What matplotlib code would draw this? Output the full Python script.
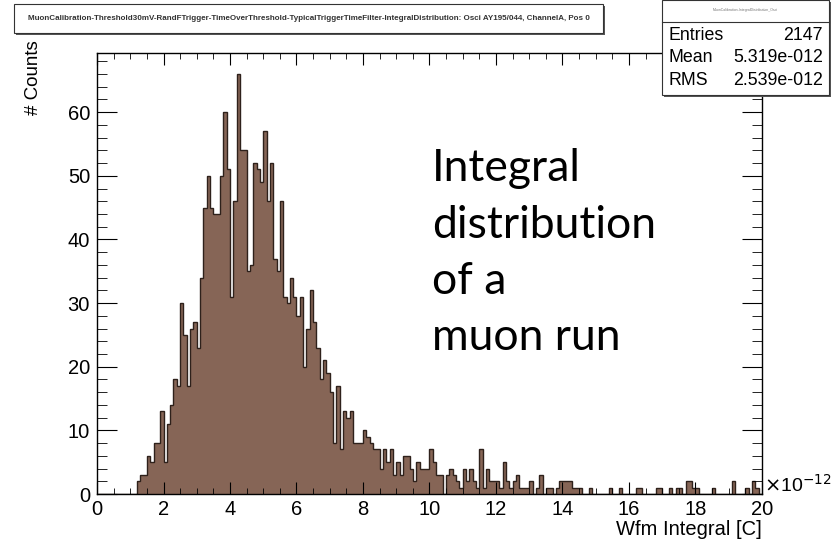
import numpy as np
import matplotlib.pyplot as plt
import matplotlib as mpl
from matplotlib.patches import Rectangle
from matplotlib.ticker import MultipleLocator

mpl.rcParams['font.family'] = 'Liberation Sans'

W, H = 831, 542

# waveform integral histogram: 200 bins over 0..20 (units of 1e-12 C)
x_lo, x_hi, n_bins = 0.0, 20.0, 200
counts = [
    0, 0, 0, 0, 0, 0, 0, 0, 0, 0,
    0, 0, 2, 3, 3, 6, 5, 8, 8, 13,
    5, 11, 14, 18, 17, 30, 25, 17, 26, 27,
    23, 34, 45, 50, 45, 44, 44, 50, 60, 51,
    31, 46, 66, 54, 54, 35, 36, 52, 51, 49,
    57, 46, 52, 37, 35, 46, 31, 30, 34, 31,
    28, 31, 20, 26, 32, 27, 23, 18, 21, 19,
    16, 8, 17, 7, 13, 12, 13, 8, 8, 8,
    10, 9, 8, 7, 7, 4, 7, 5, 7, 3,
    5, 3, 6, 6, 4, 2, 5, 4, 4, 4,
    7, 5, 3, 3, 0, 3, 4, 3, 2, 1,
    4, 2, 4, 2, 1, 7, 1, 4, 2, 2,
    2, 1, 5, 2, 1, 2, 3, 1, 1, 1,
    2, 0, 1, 3, 0, 1, 1, 0, 1, 2,
    2, 2, 2, 1, 1, 1, 0, 0, 1, 0,
    0, 0, 0, 0, 1, 0, 0, 1, 0, 0,
    0, 0, 1, 1, 0, 0, 0, 0, 1, 1,
    0, 0, 1, 0, 1, 1, 0, 2, 2, 1,
    1, 0, 0, 0, 0, 1, 0, 0, 0, 0,
    0, 2, 0, 0, 0, 1, 0, 2, 1, 0,
]

hist_title = ("MuonCalibration-Threshold30mV-RandFTrigger-TimeOverThreshold-"
              "TypicalTriggerTimeFilter-IntegralDistribution: Osci AY195/044, ChannelA, Pos 0")
stat_names = ["Entries", "Mean", "RMS"]
stat_values = ["2147", "5.319e-012", "2.539e-012"]
note_lines = ["Integral", "distribution", "of a", "muon run"]

LABEL_SIZE = 14.5


def px(x, y):
    # pixel position (from top-left) -> figure fraction
    return x / W, 1 - y / H


fig = plt.figure(figsize=(W / 100, H / 100), dpi=100)
ax = fig.add_axes([97 / W, (H - 494) / H, 665 / W, 441 / H])

edges = np.linspace(x_lo, x_hi, n_bins + 1)
ax.stairs(counts, edges, fill=True, color='#866556', lw=0)
ax.stairs(counts, edges, color='#2e211b', lw=1.0)

ax.set_xlim(x_lo, x_hi)
ax.set_ylim(0, 1.05 * max(counts))
ax.xaxis.set_major_locator(MultipleLocator(2))
ax.xaxis.set_minor_locator(MultipleLocator(0.5))
ax.yaxis.set_major_locator(MultipleLocator(10))
ax.yaxis.set_minor_locator(MultipleLocator(2))
ax.tick_params(which='both', direction='in', top=True, right=True, labelsize=LABEL_SIZE)
ax.tick_params(axis='x', which='major', length=8.5, pad=4)
ax.tick_params(axis='x', which='minor', length=4.3)
ax.tick_params(axis='y', which='major', length=14.4, pad=5)
ax.tick_params(axis='y', which='minor', length=7.2)
for s in ax.spines.values():
    s.set_linewidth(1.0)

ax.text(1.003, -0.005, r"$\times$10$^{-12}$", transform=ax.transAxes,
        fontsize=LABEL_SIZE - 0.5, ha='left', va='bottom')
ax.set_xlabel("Wfm Integral [C]", fontsize=LABEL_SIZE, loc='right', labelpad=1)
ax.set_ylabel("# Counts", fontsize=LABEL_SIZE - 1, loc='top')
ax.yaxis.set_label_coords(-0.082, 1.03)

# title pave with shadow
tx0, ty0 = px(14, 33)
tx1, ty1 = px(603, 4)
fig.patches.append(Rectangle((tx0 + 2 / W, ty0 - 2 / H), tx1 - tx0, ty1 - ty0,
                             transform=fig.transFigure, fc='#555555', ec='none'))
fig.patches.append(Rectangle((tx0, ty0), tx1 - tx0, ty1 - ty0,
                             transform=fig.transFigure, fc='white', ec='#333333', lw=0.8))
fig.text((tx0 + tx1) / 2, (ty0 + ty1) / 2, hist_title, fontsize=5.75,
         fontweight='bold', ha='center', va='center', color='#333333')

# stats pave
sx0, sy0 = px(662, 95)
sx1, sy1 = px(829, 0)
fig.patches.append(Rectangle((sx0 + 2 / W, sy0 - 2 / H), sx1 - sx0, sy1 - sy0,
                             transform=fig.transFigure, fc='#555555', ec='none'))
fig.patches.append(Rectangle((sx0, sy0), sx1 - sx0, sy1 - sy0,
                             transform=fig.transFigure, fc='white', ec='#333333', lw=0.8))
fig.add_artist(plt.Line2D([sx0, sx1], [px(0, 22)[1]] * 2, transform=fig.transFigure,
                          color='#333333', lw=0.8))
fig.text((sx0 + sx1) / 2, px(0, 10)[1], "MuonCalibration-IntegralDistribution_Osci",
         fontsize=2.5, ha='center', va='center', color='#777777')
for i, (name, val) in enumerate(zip(stat_names, stat_values)):
    yy = px(0, 35.5 + 22.5 * i)[1]
    fig.text(px(668, 0)[0], yy, name, fontsize=12.8, ha='left', va='center')
    fig.text(px(823, 0)[0], yy, val, fontsize=12.8, ha='right', va='center')

# note on the plot
for i, line in enumerate(note_lines):
    fig.text(px(432, 0)[0], px(0, 181 + 56.5 * i)[1], line, family='Lato',
             fontsize=32, ha='left', va='baseline')

fig.savefig('out.png', dpi=100)
